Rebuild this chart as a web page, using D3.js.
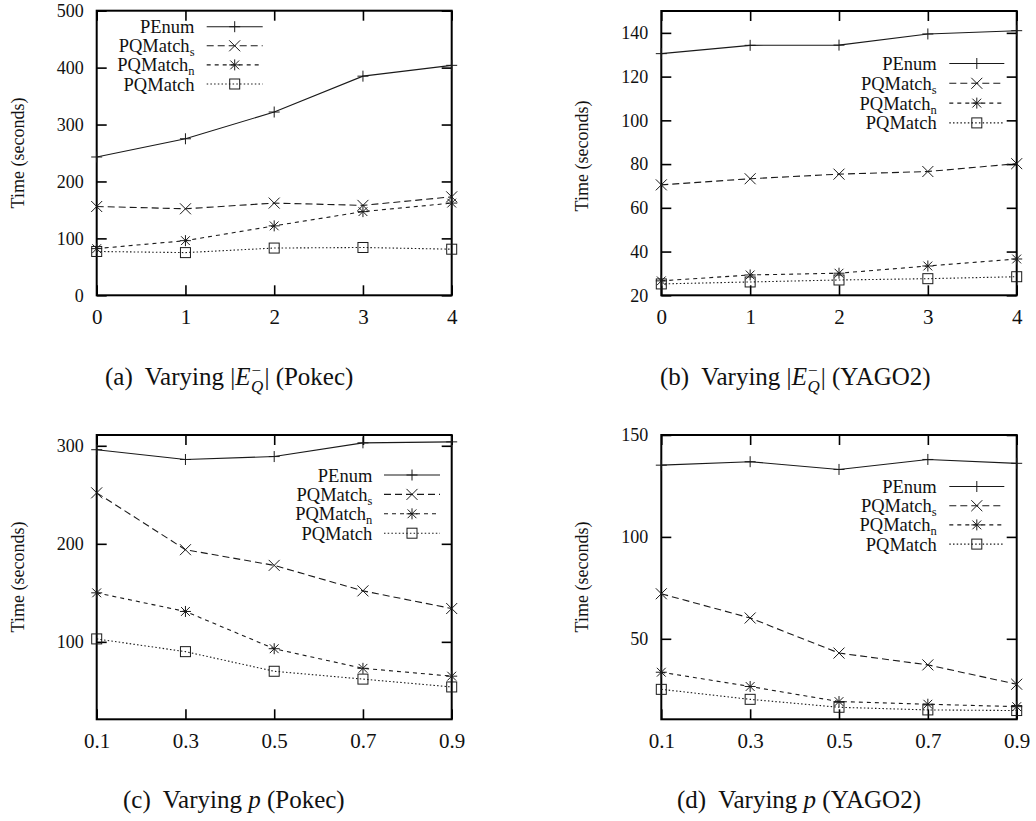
<!DOCTYPE html>
<html>
<head>
<meta charset="utf-8">
<script src="https://cdn.jsdelivr.net/npm/d3@7"></script>
<style>
  html, body { margin: 0; padding: 0; background: #fff; }
  svg { display: block; font-family: "Liberation Serif", "Times New Roman", serif; }
  svg text { font-family: "Liberation Serif", "Times New Roman", serif; }
</style>
</head>
<body>
<svg id="chart" width="1036" height="821"></svg>
<script>
// ---------------- data ----------------
const xEdges = [0, 1, 2, 3, 4];
const xProb = [0.1, 0.3, 0.5, 0.7, 0.9];
const seriesNames = ["PEnum", "PQMatch_s", "PQMatch_n", "PQMatch"];

// (a) Varying |E_Q^-| (Pokec)
const aPEnum    = [243, 275, 322, 385, 404];
const aPQMatchS = [156, 152, 162, 158, 173];
const aPQMatchN = [82, 96, 122, 147, 162];
const aPQMatch  = [77, 75, 83, 84, 81];

// (b) Varying |E_Q^-| (YAGO2)
const bPEnum    = [130.5, 134.3, 134.4, 139.5, 141];
const bPQMatchS = [70.5, 73.3, 75.4, 76.6, 80.2];
const bPQMatchN = [26.6, 29.3, 30.1, 33.4, 36.6];
const bPQMatch  = [25.2, 26.1, 27.0, 27.6, 28.5];

// (c) Varying p (Pokec)
const cPEnum    = [296, 286, 289, 303, 304];
const cPQMatchS = [252, 194, 178, 152, 134];
const cPQMatchN = [150, 131, 93, 73, 65];
const cPQMatch  = [103, 90, 70, 62, 54];

// (d) Varying p (YAGO2)
const dPEnum    = [135.2, 136.9, 133.1, 138, 136.1];
const dPQMatchS = [72.1, 60.2, 43, 37.2, 27.7];
const dPQMatchN = [33.6, 26.6, 19.2, 17.9, 16.7];
const dPQMatch  = [25.2, 20.3, 16.4, 15.1, 14.8];

const aYTicks = [0, 100, 200, 300, 400, 500];
const bYTicks = [20, 40, 60, 80, 100, 120, 140];
const cYTicks = [100, 200, 300];
const dYTicks = [50, 100, 150];
const edgeTickLabels = ["0", "1", "2", "3", "4"];
const probTickLabels = ["0.1", "0.3", "0.5", "0.7", "0.9"];
const yLabel = "Time (seconds)";

// ---------------- layout / style ----------------
const FONT = '"Liberation Serif", "Times New Roman", serif';
const markers = ["plus", "cross", "star", "square"];
const dashes = [null, "7,4", "4,4", "1.5,2.2"];

const panels = [
  { id: "a", x: xEdges, xt: edgeTickLabels, series: [aPEnum, aPQMatchS, aPQMatchN, aPQMatch],
    ydom: [0, 500], yticks: aYTicks, box: [96.7, 10.7, 451.7, 295.3],
    legend: { tx: 194.5, l0: 206.7, l1: 262.7, y0: 26.7, dy: 19.1 },
    ylab: [19.5, 153], cap: { x: 105, y: 385, kind: "E", pre: "(a)", post: "(Pokec)" } },
  { id: "b", x: xEdges, xt: edgeTickLabels, series: [bPEnum, bPQMatchS, bPQMatchN, bPQMatch],
    ydom: [20, 150], yticks: bYTicks, box: [661.3, 11, 1016.7, 295.3],
    legend: { tx: 936.7, l0: 949.3, l1: 1004.3, y0: 63.5, dy: 19.8 },
    ylab: [584, 156], cap: { x: 660, y: 385, kind: "E", pre: "(b)", post: "(YAGO2)" } },
  { id: "c", x: xProb, xt: probTickLabels, series: [cPEnum, cPQMatchS, cPQMatchN, cPQMatch],
    ydom: [21, 311], yticks: cYTicks, box: [96.7, 435, 451.7, 719.3],
    legend: { tx: 372.3, l0: 384, l1: 440, y0: 475, dy: 19.4 },
    ylab: [19.5, 577], cap: { x: 123, y: 808, kind: "p", pre: "(c)", post: "(Pokec)" } },
  { id: "d", x: xProb, xt: probTickLabels, series: [dPEnum, dPQMatchS, dPQMatchN, dPQMatch],
    ydom: [10.5, 150], yticks: dYTicks, box: [661.3, 435, 1016.7, 719.3],
    legend: { tx: 936.7, l0: 949.3, l1: 1004.3, y0: 486.5, dy: 19.2 },
    ylab: [584, 577], cap: { x: 677, y: 808, kind: "p", pre: "(d)", post: "(YAGO2)" } }
];

const svg = d3.select("#chart");
const lineColor = "#1a1a1a";

function drawMarker(g, type, x, y) {
  const s = 5.5;
  const m = g.append("g").attr("transform", `translate(${x},${y})`)
    .attr("stroke", lineColor).attr("stroke-width", 1).attr("fill", "none");
  if (type === "plus" || type === "star") {
    m.append("line").attr("x1", -s).attr("x2", s).attr("y1", 0).attr("y2", 0);
    m.append("line").attr("x1", 0).attr("x2", 0).attr("y1", -s).attr("y2", s);
  }
  if (type === "cross" || type === "star") {
    const c = type === "star" ? s * 0.8 : s;
    m.append("line").attr("x1", -c).attr("x2", c).attr("y1", -c).attr("y2", c);
    m.append("line").attr("x1", -c).attr("x2", c).attr("y1", c).attr("y2", -c);
  }
  if (type === "square") {
    m.append("rect").attr("x", -5).attr("y", -5).attr("width", 10).attr("height", 10);
  }
}

panels.forEach(p => {
  const [L, T, R, B] = p.box;
  const x = d3.scaleLinear().domain([p.x[0], p.x[p.x.length - 1]]).range([L, R]);
  const y = d3.scaleLinear().domain(p.ydom).range([B, T]);
  const g = svg.append("g");

  // axes with inward ticks (mirrored on top/right)
  const axL = d3.axisLeft(y).tickValues(p.yticks).tickSize(-10).tickPadding(13).tickFormat(d3.format("d"));
  const axR = d3.axisRight(y).tickValues(p.yticks).tickSize(-10).tickFormat("");
  const axB = d3.axisBottom(x).tickValues(p.x).tickSize(-10).tickPadding(14).tickFormat((d, i) => p.xt[i]);
  const axT = d3.axisTop(x).tickValues(p.x).tickSize(-10).tickFormat("");

  [[axL, `translate(${L},0)`, "l"], [axR, `translate(${R},0)`, "r"],
   [axB, `translate(0,${B})`, "b"], [axT, `translate(0,${T})`, "t"]].forEach(([ax, tr, k]) => {
    const a = g.append("g").attr("transform", tr).call(ax).attr("font-family", FONT);
    a.select(".domain").remove();
    a.selectAll(".tick line").attr("stroke", "#000").attr("stroke-width", 1.6);
    a.selectAll("text").attr("fill", "#111")
      .attr("font-family", FONT)
      .style("font-size", k === "b" ? "21px" : "18px");
  });

  // frame
  g.append("rect").attr("x", L).attr("y", T).attr("width", R - L).attr("height", B - T)
    .attr("fill", "none").attr("stroke", "#000").attr("stroke-width", 2);

  // y label
  g.append("text").attr("transform", `translate(${p.ylab[0]},${p.ylab[1]}) rotate(-90)`)
    .attr("text-anchor", "middle").attr("dominant-baseline", "middle")
    .attr("font-family", FONT).style("font-size", "18px").attr("fill", "#111").text(yLabel);

  // series
  const line = d3.line().x((d, i) => x(p.x[i])).y(d => y(d));
  p.series.forEach((vals, si) => {
    const path = g.append("path").datum(vals).attr("d", line)
      .attr("fill", "none").attr("stroke", lineColor).attr("stroke-width", 1.1);
    if (dashes[si]) path.attr("stroke-dasharray", dashes[si]);
    vals.forEach((v, i) => drawMarker(g, markers[si], x(p.x[i]), y(v)));
  });

  // legend
  const lg = p.legend;
  seriesNames.forEach((name, si) => {
    const ly = lg.y0 + si * lg.dy;
    const parts = name.split("_");
    const t = g.append("text").attr("x", lg.tx).attr("y", ly + 6.5).attr("text-anchor", "end")
      .attr("font-family", FONT).style("font-size", "18.5px").attr("fill", "#111");
    t.append("tspan").text(parts[0]);
    if (parts[1]) t.append("tspan").attr("dy", 4).style("font-size", "12.5px").text(parts[1]);
    const sl = g.append("line").attr("x1", lg.l0).attr("x2", lg.l1).attr("y1", ly).attr("y2", ly)
      .attr("stroke", lineColor).attr("stroke-width", 1.1);
    if (dashes[si]) sl.attr("stroke-dasharray", dashes[si]);
    drawMarker(g, markers[si], (lg.l0 + lg.l1) / 2, ly);
  });

  // caption
  const c = p.cap;
  const ct = g.append("text").attr("x", c.x).attr("y", c.y)
    .attr("font-family", FONT).style("font-size", "25px").attr("fill", "#111");
  ct.append("tspan").text(c.pre + "\u00a0 Varying ");
  if (c.kind === "E") {
    ct.append("tspan").text("|");
    ct.append("tspan").style("font-style", "italic").text("E");
    ct.append("tspan").attr("dy", -9).attr("dx", 1).style("font-size", "17px").text("\u2212");
    ct.append("tspan").attr("dy", 16).attr("dx", -10).style("font-size", "17px").style("font-style", "italic").text("Q");
    ct.append("tspan").attr("dy", -7).attr("dx", 1).text("| ");
  } else {
    ct.append("tspan").style("font-style", "italic").text("p");
    ct.append("tspan").text(" ");
  }
  ct.append("tspan").text(c.post);
});
</script>
</body>
</html>
